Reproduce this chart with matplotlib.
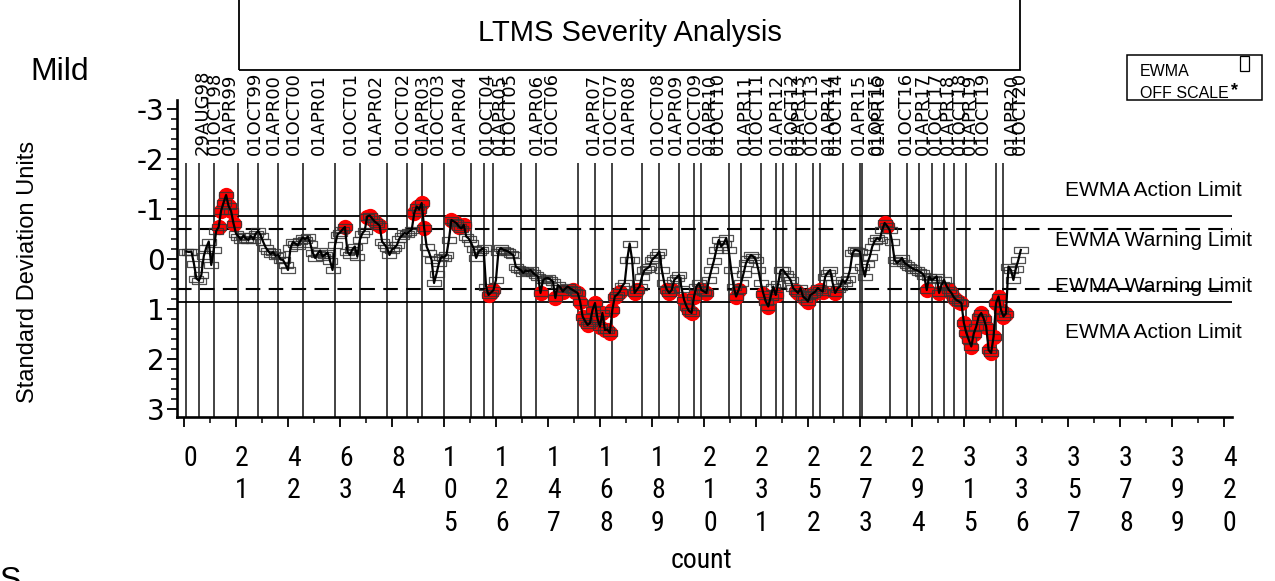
import matplotlib
matplotlib.use("Agg")
import matplotlib.pyplot as plt
import numpy as np
from matplotlib.patches import Rectangle
from matplotlib.ticker import MultipleLocator, FixedLocator
from matplotlib.transforms import ScaledTranslation
from matplotlib import font_manager as fm

W, H, DPI = 1275, 581, 100

# ---------- data ----------
ewma = [
    -0.14, -0.13, -0.14, 0.10, 0.40, 0.44, 0.33, -0.05, -0.22, -0.34,
    0.13, -0.17, -0.55, -0.63, -0.96, -1.12, -1.27, -1.05, -0.95, -0.70,
    -0.50, -0.44, -0.38, -0.46, -0.40, -0.37, -0.45, -0.38, -0.50, -0.55,
    -0.46, -0.33, -0.22, -0.15, -0.09, -0.13, -0.05, -0.08, 0.02, 0.03,
    0.12, 0.23, -0.21, -0.33, -0.30, -0.26, -0.36, -0.42, -0.38, -0.44,
    -0.30, -0.11, -0.01, -0.10, -0.16, -0.04, -0.08, -0.12, 0.05, 0.23,
    -0.27, -0.48, -0.52, -0.58, -0.63, -0.14, -0.07, -0.18, -0.24, -0.04,
    -0.37, -0.50, -0.56, -0.84, -0.86, -0.80, -0.74, -0.70, -0.66, -0.34,
    -0.28, -0.21, -0.07, -0.18, -0.21, -0.27, -0.40, -0.46, -0.51, -0.49,
    -0.54, -0.58, -0.91, -1.04, -0.98, -1.11, -0.61, -0.24, -0.12, 0.03,
    0.49, 0.30, 0.09, -0.04, -0.02, -0.07, -0.37, -0.77, -0.74, -0.71,
    -0.64, -0.60, -0.67, -0.44, -0.40, -0.31, -0.20, -0.01, -0.14, -0.18,
    -0.21, 0.56, 0.73, 0.68, 0.63, 0.43, -0.14, -0.21, -0.17, -0.16,
    -0.14, -0.10, -0.07, 0.16, 0.20, 0.23, 0.29, 0.24, 0.26, 0.23,
    0.29, 0.33, 0.36, 0.69, 0.43, 0.40, 0.39, 0.42, 0.46, 0.79,
    0.53, 0.58, 0.66, 0.60, 0.56, 0.60, 0.63, 0.66, 0.69, 0.86,
    1.16, 1.25, 1.33, 1.29, 1.03, 0.89, 1.20, 1.36, 1.09, 1.43,
    1.42, 1.49, 1.03, 0.76, 0.72, 0.66, 0.55, 0.49, 0.03, -0.30,
    0.03, 0.69, 0.62, 0.56, 0.36, 0.23, 0.20, 0.16, 0.03, -0.02,
    -0.07, -0.14, 0.23, 0.49, 0.62, 0.69, 0.63, 0.43, 0.38, 0.33,
    0.60, 0.83, 0.96, 1.05, 1.09, 0.76, 0.56, 0.49, 0.63, 0.66,
    0.69, 0.43, 0.23, 0.05, -0.17, -0.37, -0.24, -0.30, -0.41, -0.17,
    0.23, 0.56, 0.76, 0.63, 0.49, 0.30, 0.09, 0.00, -0.07, -0.04,
    0.03, 0.23, 0.49, 0.70, 0.86, 0.96, 0.76, 0.56, 0.73, 0.50,
    0.23, 0.23, 0.30, 0.36, 0.43, 0.59, 0.64, 0.69, 0.59, 0.76,
    0.80, 0.86, 0.73, 0.70, 0.66, 0.59, 0.63, 0.66, 0.36, 0.28,
    0.23, 0.49, 0.69, 0.60, 0.56, 0.43, 0.49, 0.40, 0.23, -0.11,
    -0.17, -0.16, -0.14, 0.16, 0.36, 0.10, -0.04, -0.24, -0.35, -0.41,
    -0.37, -0.57, -0.71, -0.65, -0.57, -0.34, 0.03, 0.09, 0.05, -0.01,
    0.09, 0.12, 0.16, 0.19, 0.22, 0.23, 0.26, 0.29, 0.35, 0.63,
    0.36, 0.43, 0.40, 0.36, 0.69, 0.53, 0.43, 0.55, 0.63, 0.69,
    0.78, 0.83, 0.86, 0.89, 1.29, 1.49, 1.63, 1.76, 1.50, 1.36,
    1.16, 1.09, 1.20, 1.36, 1.83, 1.89, 1.56, 0.89, 0.76, 1.03,
    1.16, 1.10, 0.16, 0.23, 0.43, 0.20, 0.03, -0.17,
]
count = np.arange(1, len(ewma) + 1)

date_labels = ["29AUG98", "01OCT98", "01APR99", "01OCT99", "01APR00", "01OCT00",
               "01APR01", "01OCT01", "01APR02", "01OCT02", "01APR03", "01OCT03",
               "01APR04", "01OCT04", "01APR05", "01OCT05", "01APR06", "01OCT06",
               "01APR07", "01OCT07", "01APR08", "01OCT08", "01APR09", "01OCT09",
               "01APR10", "01OCT10", "01APR11", "01OCT11", "01APR12", "01OCT12",
               "01APR13", "01OCT13", "01APR14", "01OCT14", "01APR15", "01OCT15",
               "01APR16", "01OCT16", "01APR17", "01OCT17", "01APR18", "01OCT18",
               "01APR19", "01OCT19", "01APR20", "01OCT20"]
date_count = [1, 6, 12, 22, 30, 38, 48, 61, 71, 82, 90, 96, 105, 116, 121, 125,
              136, 142, 159, 166, 173, 185, 192, 200, 206, 209, 220, 225, 233, 239,
              242, 247, 254, 257, 266, 273, 274, 285, 292, 297, 302, 307, 311, 316,
              328, 331]

action_limit = 0.86
warning_limit = 0.60
xticks = list(range(0, 421, 21))
yticks = [-3, -2, -1, 0, 1, 2, 3]


# narrow face for the x axis text, if one is installed
def narrow_font():
    prefs = ["liberation sans narrow", "arial narrow", "roboto condensed",
             "noto sans condensed", "dejavu sans condensed", "open sans condensed"]
    cands = []
    for f in fm.fontManager.ttflist:
        nm = f.name.lower()
        fn = f.fname.lower()
        if f.style != "normal" or f.weight not in (400, "normal", "regular", "book"):
            continue
        if "bold" in fn or "italic" in fn or "semi" in fn or "extra" in fn:
            continue
        if "narrow" in nm or "condensed" in nm or "condensed" in fn or "narrow" in fn \
                or f.stretch == "condensed":
            rank = next((i for i, p in enumerate(prefs) if p in nm or p.replace(" ", "") in fn.replace("-", "")), 50)
            cands.append((rank, f.fname))
    if cands:
        return fm.FontProperties(fname=sorted(cands)[0][1])
    return fm.FontProperties(family="Liberation Sans")


NARROW = narrow_font()

# ---------- figure ----------
fig = plt.figure(figsize=(W / DPI, H / DPI), dpi=DPI)
ax = fig.add_axes([177 / W, 1 - 417 / H, (1232 - 177) / W, (417 - 100) / H])
ax.set_xlim(-2.83, 423.3)
ax.set_ylim(3.17, -3.17)

for s in ["top", "right"]:
    ax.spines[s].set_visible(False)
for s in ["left", "bottom"]:
    ax.spines[s].set_linewidth(1.9)

# reference limits
for lim in (-action_limit, action_limit):
    ax.axhline(lim, color="black", lw=1.3, zorder=2)
for lim in (-warning_limit, warning_limit):
    ax.axhline(lim, color="black", lw=1.5, ls=(0, (7, 4)), zorder=2)

# date lines and labels
ax.vlines(date_count, -1.91, 3.17, color="#222222", lw=1.2, zorder=1)
for xc, lab in zip(date_count, date_labels):
    ax.text(xc + 6.5, -2.07, lab, rotation=90, ha="center", va="bottom",
            fontsize=13, family="DejaVu Sans")

# series
y = np.array(ewma)
off = np.abs(y) > warning_limit
ax.plot(count[off], y[off], ls="none", marker="o", ms=10, color="#ff0000",
        mec="#ff0000", zorder=3)
box = [(-1, -0.48), (1, -0.48), (1, 0.48), (-1, 0.48), (-1, -0.48)]
ax.plot(count, y, ls="none", marker=box, ms=10, mfc="none", mec="#333333",
        mew=0.9, alpha=0.85, zorder=4)
ax.plot(count, y, color="black", lw=1.6, zorder=5)

# limit labels
for yy, txt in [(-1.35, "EWMA Action Limit"), (-0.35, "EWMA Warning Limit"),
                (0.57, "EWMA Warning Limit"), (1.49, "EWMA Action Limit")]:
    ax.text(391.4, yy, txt, ha="center", va="center", fontsize=15,
            family="Liberation Sans", clip_on=False, zorder=6)

# ticks
ax.xaxis.set_major_locator(FixedLocator(xticks))
ax.xaxis.set_minor_locator(MultipleLocator(10.5))
ax.set_xticklabels(["\n".join(str(t)) for t in xticks], fontproperties=NARROW,
                   fontsize=20, linespacing=1.27)
ax.yaxis.set_major_locator(FixedLocator(yticks))
ax.yaxis.set_minor_locator(MultipleLocator(0.2))
ax.set_yticklabels([str(t) for t in yticks], family="DejaVu Sans", fontsize=20)
ax.tick_params(axis="x", which="major", direction="out", length=7, width=1.3, pad=13)
ax.tick_params(axis="x", which="minor", direction="out", length=4, width=1.1)
ax.tick_params(axis="y", which="major", direction="out", length=7, width=1.3, pad=2)
ax.tick_params(axis="y", which="minor", direction="out", length=4, width=1.1)
shift = ScaledTranslation(6 / DPI, 0, fig.dpi_scale_trans)
for lab in ax.get_xticklabels():
    lab.set_transform(lab.get_transform() + shift)

# axis titles
fig.text(701 / W, 1 - 560 / H, "count", ha="center", va="center", fontsize=20,
         fontproperties=NARROW)
fig.text(28 / W, 1 - 272 / H, "Standard Deviation Units", rotation=90,
         ha="center", va="center", fontsize=17, family="Liberation Sans")
fig.text(30 / W, 1 - 72 / H, "Mild", ha="left", va="center", fontsize=23,
         family="Liberation Sans")
fig.text(0 / W, 1 - 566 / H, "S", ha="left", va="top", fontsize=23,
         family="Liberation Sans")

# title box
fig.add_artist(Rectangle((239 / W, 1 - 70 / H), (1020 - 239) / W, 75 / H,
                         transform=fig.transFigure, fill=False, lw=1.3,
                         edgecolor="black"))
fig.text(630 / W, 1 - 33 / H, "LTMS Severity Analysis", ha="center", va="center",
         fontsize=21, family="Liberation Sans")

# legend box
fig.add_artist(Rectangle((1127 / W, 1 - 100 / H), (1262 - 1127) / W, 45 / H,
                         transform=fig.transFigure, fill=False, lw=1.1,
                         edgecolor="black"))
fig.add_artist(Rectangle((1240 / W, 1 - 71 / H), 9 / W, 15 / H,
                         transform=fig.transFigure, fill=False, lw=0.9,
                         edgecolor="black"))
fig.text(1140 / W, 1 - 72 / H, "EWMA", ha="left", va="center", fontsize=11.5,
         family="Liberation Sans")
fig.text(1140 / W, 1 - 93 / H, "OFF SCALE", ha="left", va="center", fontsize=11.5,
         family="Liberation Sans")
fig.text(1231 / W, 1 - 91 / H, "*", ha="left", va="center", fontsize=13,
         fontweight="bold", family="Liberation Sans")

fig.savefig("out.png", dpi=DPI)
